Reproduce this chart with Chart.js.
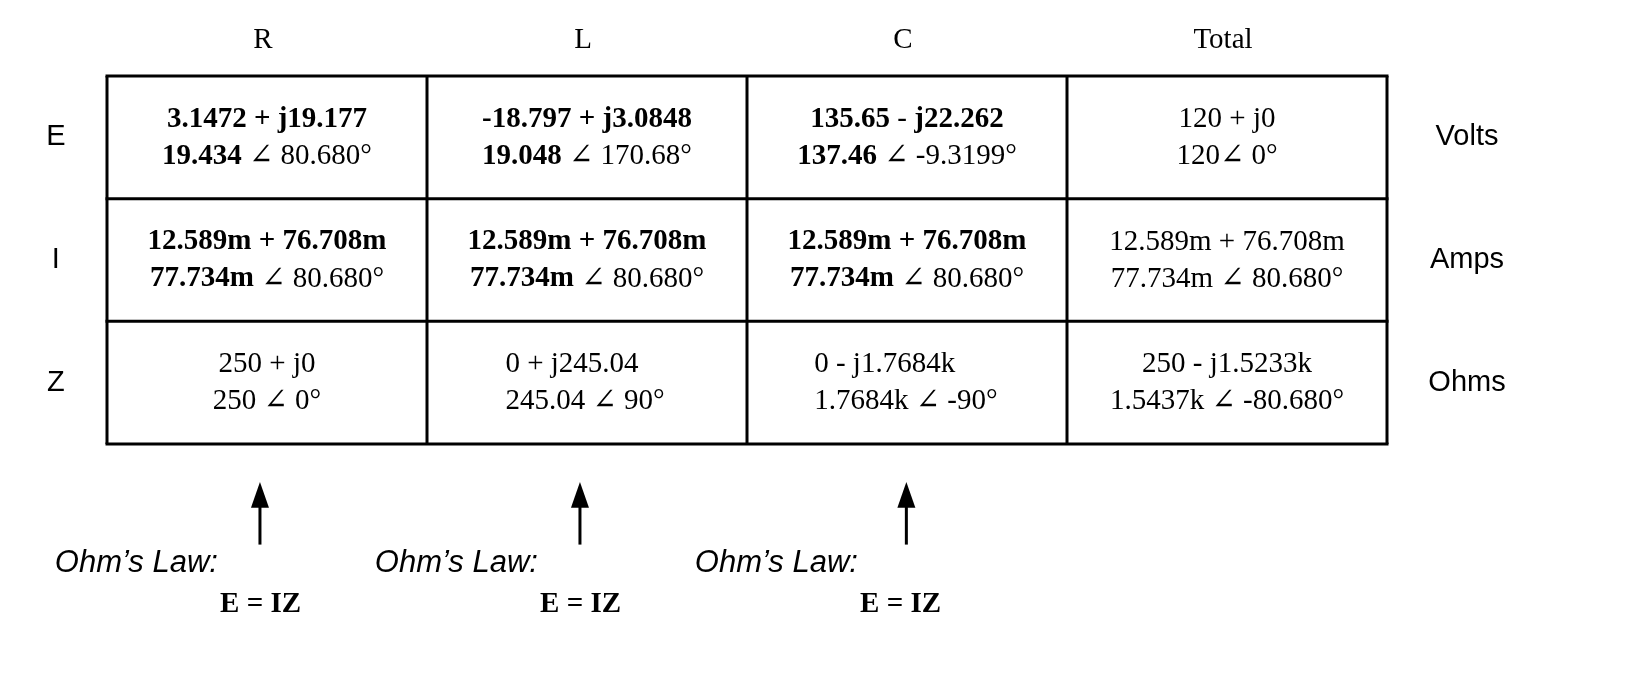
<!DOCTYPE html>
<html>
<head>
<meta charset="utf-8">
<script src="https://cdn.jsdelivr.net/npm/chart.js@4/dist/chart.umd.min.js"></script>
<style>
  html, body { margin: 0; padding: 0; background: #fff; }
  #wrap { width: 1652px; height: 684px; }
</style>
</head>
<body>
<div id="wrap"><canvas id="c" width="1652" height="684"></canvas></div>
<script>
// ==== Table data ====
const columns = ["R", "L", "C", "Total"];
const rows = ["E", "I", "Z"];
const units = ["Volts", "Amps", "Ohms"];

// ** marks bold pieces
const rowE = [
  ["**3.1472 + j19.177**", "**19.434** ∠ 80.680°"],
  ["**-18.797 + j3.0848**", "**19.048** ∠ 170.68°"],
  ["**135.65** - **j22.262**", "**137.46** ∠ -9.3199°"],
  ["120 + j0", "120∠ 0°"]
];
const rowI = [
  ["**12.589m + 76.708m**", "**77.734m** ∠ 80.680°"],
  ["**12.589m + 76.708m**", "**77.734m** ∠ 80.680°"],
  ["**12.589m + 76.708m**", "**77.734m** ∠ 80.680°"],
  ["12.589m + 76.708m", "77.734m ∠ 80.680°"]
];
const rowZ = [
  ["250 + j0", "250 ∠ 0°"],
  ["0 + j245.04", "245.04 ∠ 90°"],
  ["0 - j1.7684k", "1.7684k ∠ -90°"],
  ["250 - j1.5233k", "1.5437k ∠ -80.680°"]
];
const cells = [rowE, rowI, rowZ];
// left-aligned cells in the Z row (start as fraction of cell), null = centred
const zIndent = [null, 0.245, 0.21, null];

// Ohm's law notes under R, L, C
const lawColumns = [0, 1, 2];
const lawLabel = "Ohm’s Law:";
const lawFormula = "E = IZ";

const SERIF = '"Liberation Serif", "DejaVu Serif", serif';
const SANS = '"Liberation Sans", Arial, sans-serif';

const points = [];
cells.forEach((r, ri) => r.forEach((c, ci) => points.push({
  x: ci + 0.5, y: ri + 0.5, lines: c,
  indent: ri === 2 && zIndent[ci] != null ? ci + zIndent[ci] : null
})));

function drawRich(ctx, str, cx, cy, size, leftX) {
  const parts = str.split("**").map((t, i) => ({ t, b: i % 2 === 1 })).filter(p => p.t);
  let w = 0;
  parts.forEach(p => {
    ctx.font = (p.b ? "bold " : "") + size + "px " + SERIF;
    p.w = ctx.measureText(p.t).width;
    w += p.w;
  });
  let x = leftX != null ? leftX : cx - w / 2;
  parts.forEach(p => {
    ctx.font = (p.b ? "bold " : "") + size + "px " + SERIF;
    ctx.fillText(p.t, x, cy);
    x += p.w;
  });
}

const tablePlugin = {
  id: "table",
  afterDatasetsDraw(chart) {
    const ctx = chart.ctx;
    const xs = chart.scales.x, ys = chart.scales.y;
    const px = v => xs.getPixelForValue(v), py = v => ys.getPixelForValue(v);
    ctx.save();
    ctx.strokeStyle = "#000";
    ctx.lineWidth = 3;
    for (let i = 0; i <= columns.length; i++) {
      ctx.beginPath(); ctx.moveTo(px(i), py(0)); ctx.lineTo(px(i), py(rows.length)); ctx.stroke();
    }
    for (let j = 0; j <= rows.length; j++) {
      ctx.beginPath(); ctx.moveTo(px(0) - 1.5, py(j)); ctx.lineTo(px(columns.length) + 1.5, py(j)); ctx.stroke();
    }
    ctx.fillStyle = "#000";
    ctx.textBaseline = "middle";
    ctx.textAlign = "left";
    points.forEach(p => {
      const lx = p.indent != null ? px(p.indent) : null;
      drawRich(ctx, p.lines[0], px(p.x), py(p.y) - 18, 29, lx);
      drawRich(ctx, p.lines[1], px(p.x), py(p.y) + 19, 29, lx);
    });
    ctx.textAlign = "center";
    ctx.font = "29px " + SERIF;
    columns.forEach((c, i) => ctx.fillText(c, px(i + 0.5) - 4, py(-0.29)));
    ctx.font = "29px " + SANS;
    rows.forEach((r, i) => ctx.fillText(r, px(-0.16), py(i + 0.5)));
    units.forEach((u, i) => ctx.fillText(u, px(4.25), py(i + 0.5)));
    // arrows + Ohm's law notes
    lawColumns.forEach(ci => {
      const ax = px(ci + 0.478 + (ci === 2 ? 0.02 : 0));
      ctx.lineWidth = 3;
      ctx.beginPath(); ctx.moveTo(ax, py(3.82)); ctx.lineTo(ax, py(3.45)); ctx.stroke();
      ctx.beginPath();
      ctx.moveTo(ax, py(3.31)); ctx.lineTo(ax - 9, py(3.52)); ctx.lineTo(ax + 9, py(3.52));
      ctx.closePath(); ctx.fill();
      ctx.textAlign = "left";
      ctx.font = "italic 31px " + SANS;
      ctx.fillText(lawLabel, px(ci - 0.163), py(3.97));
      ctx.textAlign = "center";
      ctx.font = "bold 29px " + SERIF;
      ctx.fillText(lawFormula, px(ci + 0.48), py(4.31));
    });
    ctx.restore();
  }
};

new Chart(document.getElementById("c"), {
  type: "scatter",
  data: { datasets: [{ data: points, pointRadius: 0 }] },
  options: {
    responsive: false,
    animation: false,
    events: [],
    layout: { padding: { left: 107, right: 265, top: 76, bottom: 240 } },
    plugins: { legend: { display: false }, tooltip: { enabled: false } },
    scales: {
      x: { display: false, min: 0, max: columns.length },
      y: { display: false, min: 0, max: rows.length, reverse: true }
    }
  },
  plugins: [tablePlugin]
});
</script>
</body>
</html>
